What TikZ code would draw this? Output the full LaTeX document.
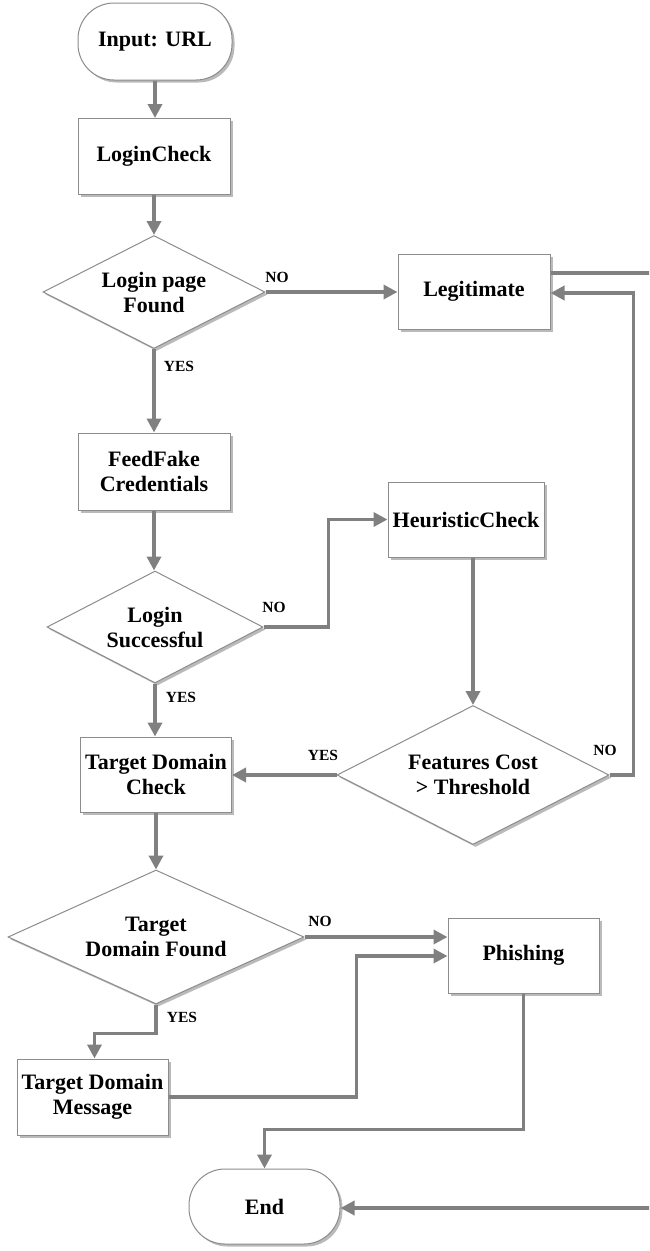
\documentclass[tikz,border=0pt]{standalone}
\usepackage{fontspec}
\setmainfont{Liberation Serif}
\usetikzlibrary{shapes.geometric,arrows.meta,shadows}
\begin{document}
\begin{tikzpicture}[x=1pt,y=-1pt,
  base/.style={draw=black!45, line width=1pt, fill=white, align=center,
    font=\bfseries\fontsize{22}{25}\selectfont, inner sep=1pt,
    drop shadow={shadow xshift=2.5pt, shadow yshift=-2.5pt, fill=black!45, opacity=0.6}},
  box/.style={base, rectangle, minimum width=152pt, minimum height=76pt},
  term/.style={base, rectangle, rounded corners=36pt, minimum width=154pt, minimum height=77pt},
  dec/.style={base, diamond, inner sep=0pt},
  flow/.style={draw=black!50, line width=3.5pt, -{Triangle[length=14pt,width=14pt]}},
  plain/.style={draw=black!50, line width=3.5pt},
  lbl/.style={font=\bfseries\fontsize{15.5}{17}\selectfont, inner sep=0pt}
]
\useasboundingbox (0,0) rectangle (649,1251);
\clip (0,0) rectangle (649,1251);

% nodes
\node[term] (in) at (155,41.5) {Input: URL};
\node[box] (lc) at (154,156.5) {LoginCheck};
\node[dec, minimum width=222pt, minimum height=113pt, aspect=1.96] (d1) at (154,292) {Login page\\Found};
\node[box, minimum height=75pt] (legit) at (474,291.5) {Legitimate};
\node[box, minimum height=77pt] (ff) at (154,471.5) {FeedFake\\Credentials};
\node[dec, minimum width=216pt, minimum height=112pt, aspect=1.93] (d2) at (155,627) {Login\\Successful};
\node[box, minimum width=156pt, minimum height=75pt] (heur) at (466,519.5) {HeuristicCheck};
\node[box, minimum width=151pt, minimum height=75pt] (tdc) at (156,774.5) {Target Domain\\Check};
\node[dec, minimum width=272pt, minimum height=139pt, aspect=1.96] (d3) at (473,775) {Features Cost\\> Threshold};
\node[dec, minimum width=296pt, minimum height=134pt, aspect=2.2] (tdf) at (156,937) {Target\\Domain Found};
\node[box, minimum width=151pt, minimum height=75pt] (ph) at (523.5,955.5) {Phishing};
\node[box, minimum width=151pt, minimum height=76pt] (tdm) at (92.5,1097) {Target Domain\\Message};
\node[term, minimum width=151pt, minimum height=75pt] (end) at (264.5,1206.5) {End};

% labels
\node[lbl] (n1) at (277,277) {NO};
\node[lbl] (y1) at (179,366) {YES};
\node[lbl] (n2) at (274,607) {NO};
\node[lbl] (y2) at (181,697) {YES};
\node[lbl] (y3) at (323,755) {YES};
\node[lbl] (n3) at (605,750) {NO};
\node[lbl] (n4) at (320,921) {NO};
\node[lbl] (y4) at (182,1017) {YES};

% connectors
\draw[flow] (in.south) -- (in.south |- lc.north);
\draw[flow] (lc.south) -- (lc.south |- d1.north);
\draw[flow] (d1.east) -- (legit.west |- d1.east);
\draw[flow] (d1.south) -- (d1.south |- ff.north);
\draw[flow] (ff.south) -- (ff.south |- d2.north);
\draw[flow] (d2.east) -- ++(65,0) |- (heur.west);
\draw[flow] (heur.south -| d3.north) -- (d3.north);
\draw[flow] (d3.west) -- (tdc.east |- d3.west);
\draw[flow] (d3.east) -- ++(24,0) |- ([yshift=-1.5pt]legit.east);
\draw[flow] (d2.south) -- (d2.south |- tdc.north);
\draw[flow] (tdc.south) -- (tdf.north);
\draw[flow] (tdf.east) -- (ph.west |- tdf.east);
\draw[flow] (tdf.south) -- ++(0,29) -| ([xshift=2pt]tdm.north);
\draw[flow] (tdm.east) -- ++(188,0) |- ([yshift=-0.5pt]ph.west);
\draw[flow] (ph.south) -- ++(0,136) -| (end.north);
\draw[flow] ([yshift=18.5pt]legit.east) -- ++(150,0) |- ([yshift=-1.5pt]end.east);
\end{tikzpicture}
\end{document}
